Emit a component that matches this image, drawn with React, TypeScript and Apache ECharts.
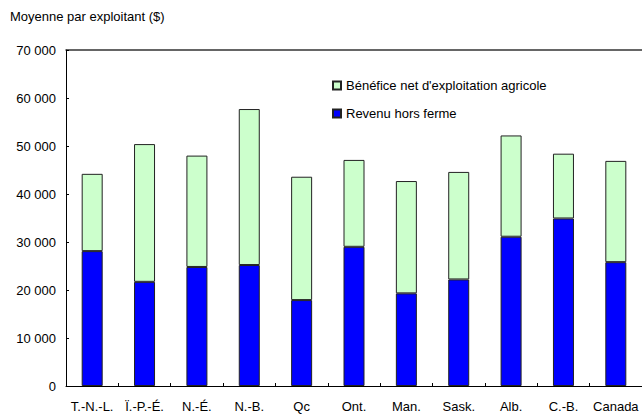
import React, { useEffect, useRef } from "react";
import * as echarts from "echarts";

const categories = ["T.-N.-L.", "Ï.-P.-É.", "N.-É.", "N.-B.", "Qc", "Ont.", "Man.", "Sask.", "Alb.", "C.-B.", "Canada"];
const offFarmIncome = [28100, 21700, 24800, 25200, 17900, 29000, 19300, 22200, 31100, 34900, 25800];
const netFarmIncome = [16100, 28700, 23200, 32500, 25700, 18100, 23400, 22400, 21100, 13500, 21100];
const yTicks = [0, 10000, 20000, 30000, 40000, 50000, 60000, 70000];

const FONT = "Arial, 'Liberation Sans', sans-serif";

const fmt = (v: number) => v.toLocaleString("en-US").replace(/,/g, " ");

export default function App() {
  const ref = useRef<HTMLDivElement>(null);
  useEffect(() => {
    document.body.style.margin = "0";
    const chart = echarts.init(ref.current!, null, { renderer: "svg" });
    chart.setOption({
      animation: false,
      textStyle: { fontFamily: FONT },
      title: {
        text: "Moyenne par exploitant ($)",
        left: 10,
        top: 10,
        padding: 0,
        textStyle: { fontFamily: FONT, fontSize: 13, fontWeight: "normal", color: "#000" },
      },
      legend: {
        orient: "vertical",
        left: 332,
        top: 78,
        padding: 0,
        itemWidth: 8,
        itemHeight: 8,
        itemGap: 13,
        icon: "rect",
        data: ["Bénéfice net d'exploitation agricole", "Revenu hors ferme"],
        textStyle: { fontFamily: FONT, fontSize: 13, color: "#000", lineHeight: 15 },
      },
      grid: { left: 66, right: 0, top: 50, bottom: 28, containLabel: false },
      xAxis: [
        {
          type: "category",
          data: categories,
          axisLine: { lineStyle: { color: "#000", width: 1 } },
          axisTick: { show: true, inside: true, length: 3, lineStyle: { color: "#000" } },
          axisLabel: { color: "#000", fontSize: 13, fontFamily: FONT, margin: 14, interval: 0 },
        },
        {
          type: "category",
          data: categories,
          position: "top",
          axisLine: { show: true, lineStyle: { color: "#333", width: 1.5 } },
          axisTick: { show: false },
          axisLabel: { show: false },
        },
      ],
      yAxis: {
        type: "value",
        min: yTicks[0],
        max: yTicks[yTicks.length - 1],
        interval: 10000,
        axisLine: { show: true, lineStyle: { color: "#000", width: 1 } },
        axisTick: { show: true, inside: true, length: 3, lineStyle: { color: "#000" } },
        splitLine: { show: false },
        axisLabel: { color: "#000", fontSize: 13, fontFamily: FONT, margin: 10, formatter: (v: number) => fmt(v) },
      },
      series: [
        {
          name: "Revenu hors ferme",
          type: "bar",
          stack: "total",
          data: offFarmIncome,
          barWidth: 21,
          itemStyle: { color: "#0000ff", borderColor: "#222", borderWidth: 1 },
        },
        {
          name: "Bénéfice net d'exploitation agricole",
          type: "bar",
          stack: "total",
          data: netFarmIncome,
          barWidth: 21,
          itemStyle: { color: "#ccffcc", borderColor: "#222", borderWidth: 1 },
        },
      ],
    });
    return () => chart.dispose();
  }, []);
  return <div ref={ref} style={{ width: 642, height: 414 }} />;
}
